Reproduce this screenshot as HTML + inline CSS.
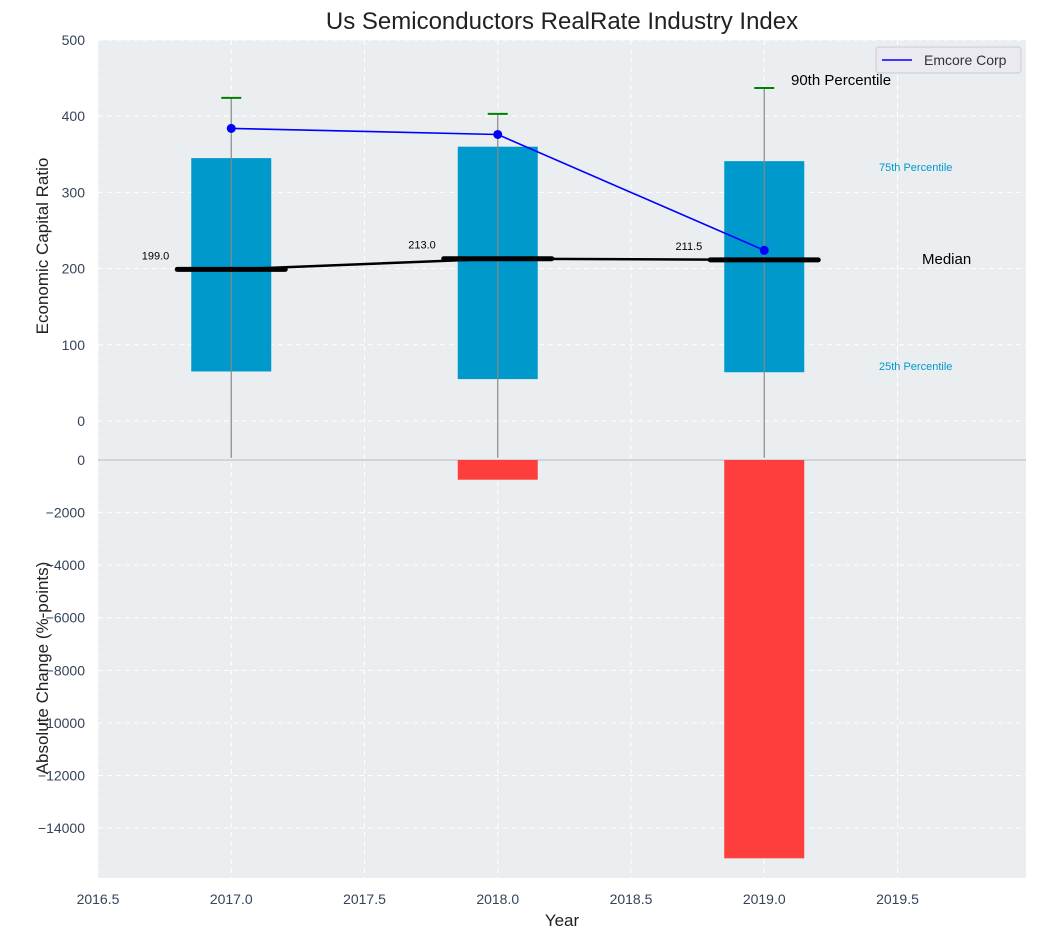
<!DOCTYPE html>
<html><head><meta charset="utf-8"><style>
body{margin:0;background:#fff;}
svg text{font-family:"Liberation Sans",sans-serif;}
</style></head><body>
<svg id="c" width="1038" height="940" xmlns="http://www.w3.org/2000/svg"></svg>
<script>
const years=[2017,2018,2019];
const q25=[65,55,64];
const q75=[345,360,341];
const p90=[424,403,437];
const medians=[199,213,211.5];
const emcore=[384,376,224];
const changes=[0,-750,-15150];
const xTicks=[2016.5,2017,2017.5,2018,2018.5,2019,2019.5];
const topTicks=[0,100,200,300,400,500];
const botTicks=[0,-2000,-4000,-6000,-8000,-10000,-12000,-14000];

const NS="http://www.w3.org/2000/svg";
const svg=document.getElementById('c');
function el(t,a,p){const e=document.createElementNS(NS,t);for(const k in a)e.setAttribute(k,a[k]);(p||svg).appendChild(e);return e;}
const L=98,R=1026,T1=40,B1=460,B2=878;
const x=v=>L+(v-2016.5)*266.5;
const yT=v=>421-v*0.762;
function yb(v){return 460-v*0.02629;}
const TC='#34445a';

let r=el('rect',{x:L,y:T1,width:R-L,height:B1-T1,fill:'#eaeef0'});

r=el('rect',{x:L,y:B1,width:R-L,height:B2-B1,fill:'#eaeef0'});


const grid=el('g',{stroke:'#fff','stroke-dasharray':'5,4','stroke-width':1});

xTicks.forEach(v=>{el('line',{x1:x(v),x2:x(v),y1:T1,y2:B2},grid);});
topTicks.forEach(v=>{el('line',{x1:L,x2:R,y1:yT(v),y2:yT(v)},grid);});
botTicks.forEach(v=>{el('line',{x1:L,x2:R,y1:yb(v),y2:yb(v)},grid);});
el('line',{x1:L,x2:R,y1:B1,y2:B1,stroke:'#bbb','stroke-width':1});

xTicks.forEach(v=>{const t=el('text',{x:x(v),y:904,'text-anchor':'middle','font-size':14,fill:TC});t.textContent=v.toFixed(1);
});
topTicks.forEach(v=>{const t=el('text',{x:85,y:yT(v)+5,'text-anchor':'end','font-size':14,fill:TC});t.textContent=v;
});
botTicks.forEach(v=>{const t=el('text',{x:85,y:yb(v)+5,'text-anchor':'end','font-size':14,fill:TC});t.textContent=v<0?'\u2212'+(-v):v;
});

years.forEach((yr,i)=>{
 const b=el('rect',{x:x(yr)-40,y:yT(q75[i]),width:80,height:yT(q25[i])-yT(q75[i]),fill:'#0099cc'});
 
 const w=el('line',{x1:x(yr),x2:x(yr),y1:458,y2:yT(p90[i]),stroke:'#888','stroke-width':1.2});
 
 const c=el('line',{x1:x(yr)-10,x2:x(yr)+10,y1:yT(p90[i]),y2:yT(p90[i]),stroke:'green','stroke-width':2});
 
 const m=el('line',{x1:x(yr)-54,x2:x(yr)+54,y1:yT(medians[i]),y2:yT(medians[i]),stroke:'#000','stroke-width':5,'stroke-linecap':'round'});
 
 const t=el('text',{x:x(yr)-62,y:yT(medians[i])-10,'text-anchor':'end','font-size':11,fill:'#000'});t.textContent=medians[i].toFixed(1);
 
 if(changes[i]!==0){const cb=el('rect',{x:x(yr)-40,y:B1,width:80,height:yb(changes[i])-B1,fill:'#ff3333','fill-opacity':0.95});
 }
});
let p=el('polyline',{points:years.map((yr,i)=>x(yr)+','+yT(medians[i])).join(' '),fill:'none',stroke:'#000','stroke-width':2.5});

p=el('polyline',{points:years.map((yr,i)=>x(yr)+','+yT(emcore[i])).join(' '),fill:'none',stroke:'blue','stroke-width':1.6});

years.forEach((yr,i)=>{const d=el('circle',{cx:x(yr),cy:yT(emcore[i]),r:4.5,fill:'blue'});
});

function txt(s,a,name){const t=el('text',a);t.textContent=s;return t;}
txt('90th Percentile',{x:791,y:85,'font-size':15,fill:'#000'},'p90-annotation');
txt('75th Percentile',{x:879,y:171,'font-size':11,fill:'#0099cc'},'p75-annotation');
txt('Median',{x:922,y:264,'font-size':15,fill:'#000'},'median-annotation');
txt('25th Percentile',{x:879,y:370,'font-size':11,fill:'#0099cc'},'p25-annotation');
txt('Us Semiconductors RealRate Industry Index',{x:562,y:29,'text-anchor':'middle','font-size':24,fill:'#222'},'chart-title');
txt('Year',{x:562,y:926,'text-anchor':'middle','font-size':17,fill:'#222'},'x-axis-title');
txt('Economic Capital Ratio',{x:0,y:0,'text-anchor':'middle','font-size':17,fill:'#222',transform:'translate(48,246) rotate(-90)'},'top-y-axis-title');
txt('Absolute Change (%-points)',{x:0,y:0,'text-anchor':'middle','font-size':17,fill:'#222',transform:'translate(48,668) rotate(-90)'},'bottom-y-axis-title');

const lg=el('g',{});
el('rect',{x:876,y:47,width:145,height:26,rx:3,fill:'#eaeaf0',stroke:'#ccc'},lg);
el('line',{x1:882,x2:912,y1:60,y2:60,stroke:'blue','stroke-width':1.6},lg);
const lt=el('text',{x:924,y:65,'font-size':14,fill:'#333'},lg);lt.textContent='Emcore Corp';
</script>
</body></html>
